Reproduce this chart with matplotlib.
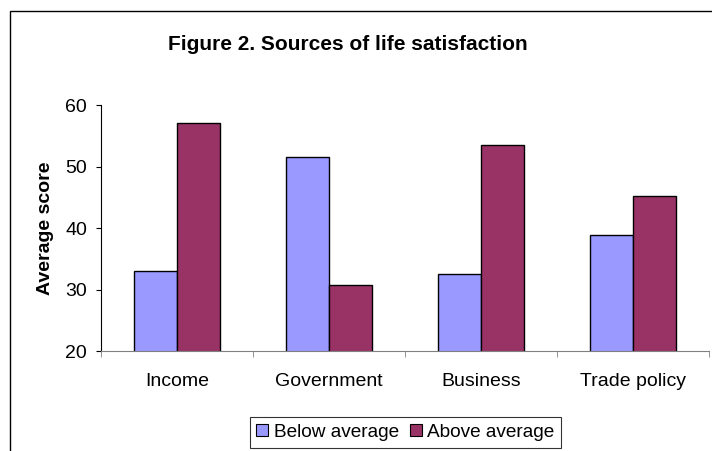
import numpy as np
import matplotlib
matplotlib.use("Agg")
import matplotlib.pyplot as plt
from matplotlib.patches import Rectangle, Patch

categories = ["Income", "Government", "Business", "Trade policy"]
below_avg = [33.0, 51.6, 32.5, 38.8]
above_avg = [57.0, 30.7, 53.5, 45.2]
series_names = ["Below average", "Above average"]
colors = ["#9999FF", "#993366"]

plt.rcParams["font.family"] = ["Liberation Sans", "DejaVu Sans"]

W, H = 712, 451
fig = plt.figure(figsize=(W / 100, H / 100), dpi=100)

# outer chart border (cut off at right and bottom like the reference)
fig.patches.append(Rectangle((10 / W, -0.05), 1.1, 1 - 11 / H + 0.05,
                             transform=fig.transFigure, fill=False,
                             edgecolor="black", linewidth=1.0))

ax = fig.add_axes([101 / W, (H - 351) / H, 608 / W, 246 / H])

x = np.arange(len(categories))
bw = 1 / 3.5
ax.bar(x - bw / 2, below_avg, bw, bottom=0, color=colors[0], edgecolor="black", linewidth=1.0)
ax.bar(x + bw / 2, above_avg, bw, bottom=0, color=colors[1], edgecolor="black", linewidth=1.0)

ax.set_xlim(-0.5, len(categories) - 0.5)
ax.set_ylim(20, 60)
ax.set_yticks([20, 30, 40, 50, 60])
ax.set_xticks(x)
ax.set_xticklabels(categories)
ax.set_xticks(np.arange(-0.5, len(categories)), minor=True)
ax.tick_params(axis="x", which="major", length=0, pad=16, labelsize=14)
ax.tick_params(axis="x", which="minor", length=4, direction="out", color="#808080")
ax.tick_params(axis="y", length=3.6, direction="out", pad=6.5, labelsize=14, width=0.8)

for s in ["top", "right"]:
    ax.spines[s].set_visible(False)
ax.spines["bottom"].set_color("#808080")
ax.spines["left"].set_color("black")
ax.spines["left"].set_linewidth(0.8)

ax.set_ylabel("Average score", fontsize=14, fontweight="bold")
ax.yaxis.set_label_coords((54 - 101) / 608, 0.5)

fig.text(347.5 / W, 1 - 44 / H, "Figure 2. Sources of life satisfaction",
         ha="center", va="center", fontsize=15, fontweight="bold")

handles = [Patch(facecolor=c, edgecolor="black", linewidth=0.8) for c in colors]
leg = fig.legend(handles, series_names, loc="center", bbox_to_anchor=(405.5 / W, 1 - 432.5 / H),
                 ncol=2, fontsize=13.7, frameon=True, fancybox=False, shadow=False,
                 handlelength=0.6, handleheight=0.6, handletextpad=0.3,
                 columnspacing=0.6, borderpad=0.35, borderaxespad=0)
leg.get_frame().set_edgecolor("black")
leg.get_frame().set_linewidth(0.8)

fig.savefig("out.png", dpi=100)
